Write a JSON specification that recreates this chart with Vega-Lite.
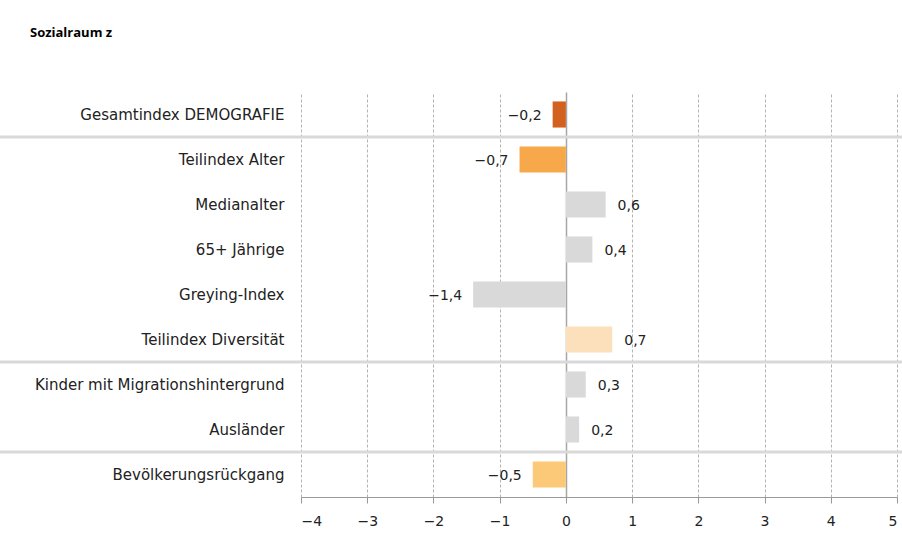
{
  "$schema": "https://vega.github.io/schema/vega-lite/v6.json",
  "width": 596,
  "height": 405,
  "autosize": {"type": "none"},
  "padding": {"left": 301, "top": 92, "right": 5, "bottom": 46},
  "background": "white",
  "title": {
    "text": "Sozialraum z",
    "anchor": "start",
    "frame": "group",
    "dx": -271,
    "offset": 52,
    "font": "Open Sans",
    "fontSize": 13,
    "fontWeight": "bold",
    "color": "#000000"
  },
  "config": {
    "locale": {
      "number": {"decimal": ",", "thousands": ".", "grouping": [3], "currency": ["", " €"], "minus": "−"}
    },
    "view": {"stroke": null},
    "font": "DejaVu Sans"
  },
  "data": {
    "values": [
      {"kategorie": "Gesamtindex DEMOGRAFIE", "wert": -0.2, "farbe": "#D2601F"},
      {"kategorie": "Teilindex Alter", "wert": -0.7, "farbe": "#F7A84A"},
      {"kategorie": "Medianalter", "wert": 0.6, "farbe": "#D9D9D9"},
      {"kategorie": "65+ Jährige", "wert": 0.4, "farbe": "#D9D9D9"},
      {"kategorie": "Greying-Index", "wert": -1.4, "farbe": "#D9D9D9"},
      {"kategorie": "Teilindex Diversität", "wert": 0.7, "farbe": "#FCE0BC"},
      {"kategorie": "Kinder mit Migrationshintergrund", "wert": 0.3, "farbe": "#D9D9D9"},
      {"kategorie": "Ausländer", "wert": 0.2, "farbe": "#D9D9D9"},
      {"kategorie": "Bevölkerungsrückgang", "wert": -0.5, "farbe": "#FBC977"}
    ]
  },
  "encoding": {
    "y": {
      "field": "kategorie",
      "type": "nominal",
      "sort": null,
      "scale": {"paddingInner": 0, "paddingOuter": 0},
      "axis": {
        "title": null,
        "domain": false,
        "ticks": false,
        "labelPadding": 17,
        "labelFontSize": 15,
        "labelColor": "#222222",
        "labelFont": "DejaVu Sans",
        "labelLimit": 300
      }
    }
  },
  "layer": [
    {
      "mark": {"type": "bar", "height": {"band": 0.58}},
      "encoding": {
        "x": {
          "field": "wert",
          "type": "quantitative",
          "scale": {"domain": [-4, 5], "nice": false, "zero": false},
          "axis": {
            "title": null,
            "values": [-4, -3, -2, -1, 0, 1, 2, 3, 4, 5],
            "format": "d",
            "grid": true,
            "gridColor": {"condition": {"test": "datum.value === 0", "value": "#A6A6A6"}, "value": "#A0A0A0"},
            "gridDash": {"condition": {"test": "datum.value === 0", "value": []}, "value": [3, 2]},
            "gridWidth": {"condition": {"test": "datum.value === 0", "value": 1.5}, "value": 0.8},
            "domainColor": "#999999",
            "domainWidth": 1,
            "tickColor": "#999999",
            "tickSize": 6,
            "labelFontSize": 14,
            "labelColor": "#222222",
            "labelPadding": 11,
            "labelFont": "DejaVu Sans"
          }
        },
        "color": {"field": "farbe", "type": "nominal", "scale": null}
      }
    },
    {
      "transform": [{"filter": "datum.wert < 0"}],
      "mark": {"type": "text", "fontSize": 14, "color": "#222222", "font": "DejaVu Sans", "align": "right", "dx": -11, "dy": 1},
      "encoding": {
        "x": {"field": "wert", "type": "quantitative"},
        "text": {"field": "wert", "type": "quantitative", "format": ".1f"}
      }
    },
    {
      "transform": [{"filter": "datum.wert >= 0"}],
      "mark": {"type": "text", "fontSize": 14, "color": "#222222", "font": "DejaVu Sans", "align": "left", "dx": 12, "dy": 1},
      "encoding": {
        "x": {"field": "wert", "type": "quantitative"},
        "text": {"field": "wert", "type": "quantitative", "format": ".1f"}
      }
    },
    {
      "data": {
        "values": [
          {"kategorie": "Teilindex Alter", "von": -8.55, "bis": 5.1},
          {"kategorie": "Kinder mit Migrationshintergrund", "von": -8.55, "bis": 5.1},
          {"kategorie": "Bevölkerungsrückgang", "von": -8.55, "bis": 5.1}
        ]
      },
      "mark": {"type": "rule", "color": "#D9D9D9", "strokeWidth": 3, "clip": false},
      "encoding": {
        "y": {"field": "kategorie", "type": "nominal", "bandPosition": 0},
        "x": {"field": "von", "type": "quantitative"},
        "x2": {"field": "bis"}
      }
    }
  ]
}
